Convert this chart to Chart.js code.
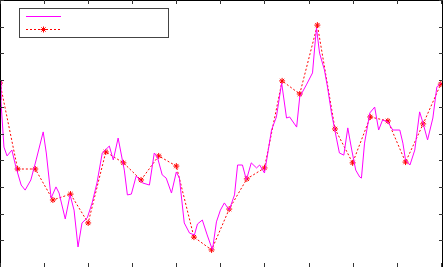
<!DOCTYPE html>
<html>
<head>
<meta charset="utf-8">
<script src="https://cdn.jsdelivr.net/npm/chart.js@4/dist/chart.umd.min.js"></script>
<style>
  html, body { margin: 0; padding: 0; background: #fff; }
  #wrap { width: 445px; height: 267px; }
</style>
</head>
<body>
<div id="wrap"><canvas id="plot"></canvas></div>
<script>
// fine series (magenta) - x positions and values
const fineX = [0.00, 0.02, 0.09, 0.16, 0.27, 0.36, 0.48, 0.57, 0.70, 0.82,
    0.98, 1.05, 1.16, 1.27, 1.34, 1.48, 1.59, 1.68, 1.77, 1.86,
    1.98, 2.09, 2.20, 2.32, 2.48, 2.57, 2.68, 2.82, 2.89, 2.98,
    3.09, 3.23, 3.39, 3.50, 3.57, 3.68, 3.77, 3.89, 4.00, 4.07,
    4.18, 4.30, 4.41, 4.48, 4.59, 4.70, 4.82, 4.91, 5.00, 5.09,
    5.20, 5.32, 5.39, 5.50, 5.59, 5.70, 5.82, 5.89, 6.00, 6.05,
    6.16, 6.27, 6.39, 6.50, 6.57, 6.73, 6.80, 6.95, 7.09, 7.14,
    7.18, 7.25, 7.36, 7.43, 7.52, 7.64, 7.70, 7.80, 7.89, 7.98,
    8.07, 8.16, 8.20, 8.27, 8.39, 8.50, 8.59, 8.68, 8.80, 8.91,
    9.07, 9.14, 9.20, 9.30, 9.41, 9.52, 9.59, 9.70, 9.82, 9.91, 10.00];
const fineY = [7.00, 6.25, 4.49, 4.16, 4.38, 3.75, 3.07, 2.88, 3.26, 4.01,
    5.06, 4.27, 2.58, 3.00, 2.77, 1.80, 2.70, 2.13, 0.75, 1.65,
    1.84, 2.40, 3.15, 4.27, 4.53, 4.01, 4.83, 3.63, 2.70, 2.73,
    3.41, 3.15, 3.07, 4.27, 4.12, 3.45, 3.33, 2.77, 3.56, 3.33,
    1.65, 1.27, 1.20, 1.61, 1.76, 1.20, 0.64, 1.69, 2.13, 2.40,
    2.13, 2.70, 3.82, 3.82, 3.26, 3.90, 3.71, 3.82, 3.52, 4.01,
    5.13, 5.62, 6.89, 5.58, 5.62, 5.24, 6.37, 6.82, 7.27, 8.24,
    8.95, 8.01, 7.38, 6.74, 5.77, 4.76, 4.27, 4.19, 5.21, 4.38,
    3.63, 3.37, 3.33, 4.64, 5.77, 5.99, 5.13, 5.51, 5.43, 5.13,
    5.13, 4.64, 4.01, 3.82, 4.38, 5.81, 5.43, 4.76, 5.58, 6.74, 6.89];

// coarse series (red, star markers) every 0.4
const coarseX = [0, 0.4, 0.8, 1.2, 1.6, 2.0, 2.4, 2.8, 3.2, 3.6, 4.0, 4.4, 4.8,
    5.2, 5.6, 6.0, 6.4, 6.8, 7.2, 7.6, 8.0, 8.4, 8.8, 9.2, 9.6, 10.0];
const coarseY = [6.89, 3.67, 3.67, 2.51, 2.73, 1.65, 4.31, 3.90, 3.26, 4.16, 3.78, 1.12, 0.64,
    2.17, 3.30, 3.71, 6.97, 6.48, 9.06, 5.17, 3.90, 5.62, 5.47, 3.93, 5.36, 6.85];

const xTicks = [0, 1, 2, 3, 4, 5, 6, 7, 8, 9, 10];
const yTicks = [0, 1, 2, 3, 4, 5, 6, 7, 8, 9, 10];

// box with inward tick marks + legend box in the upper left
const boxPlugin = {
    id: 'box',
    afterDraw(chart) {
        const ctx = chart.ctx;
        const a = chart.chartArea;
        const sx = chart.scales.x, sy = chart.scales.y;
        ctx.save();
        ctx.strokeStyle = '#000';
        ctx.lineWidth = 1;
        ctx.beginPath();
        ctx.moveTo(a.left + 0.5, a.bottom);
        ctx.lineTo(a.left + 0.5, a.top + 0.5);
        ctx.lineTo(a.right - 0.5, a.top + 0.5);
        ctx.lineTo(a.right - 0.5, a.bottom);
        ctx.stroke();

        ctx.strokeStyle = '#333';
        ctx.beginPath();
        xTicks.forEach(t => {
            const px = Math.round(sx.getPixelForValue(t)) + 0.5;
            ctx.moveTo(px, a.top); ctx.lineTo(px, a.top + 4);
            ctx.moveTo(px, a.bottom); ctx.lineTo(px, a.bottom - 4);
        });
        yTicks.forEach(t => {
            const py = Math.round(sy.getPixelForValue(t)) + 0.5;
            ctx.moveTo(a.left, py); ctx.lineTo(a.left + 4, py);
            ctx.moveTo(a.right, py); ctx.lineTo(a.right - 4, py);
        });
        ctx.stroke();

        // legend
        ctx.fillStyle = '#fff';
        ctx.fillRect(20, 9, 148, 28);
        ctx.strokeStyle = '#444';
        ctx.strokeRect(19.5, 8.5, 149, 29);
        const ds = chart.data.datasets;
        ctx.strokeStyle = ds[0].borderColor;
        ctx.beginPath();
        ctx.moveTo(26, 16.5); ctx.lineTo(61, 16.5);
        ctx.stroke();
        ctx.strokeStyle = ds[1].borderColor;
        ctx.setLineDash(ds[1].borderDash);
        ctx.beginPath();
        ctx.moveTo(26, 29.5); ctx.lineTo(61, 29.5);
        ctx.stroke();
        ctx.setLineDash([]);
        Chart.helpers.drawPoint(ctx, {pointStyle: 'star', radius: 3, rotation: 0, borderWidth: 1}, 43.5, 29.5);
        ctx.restore();
    }
};

new Chart(document.getElementById('plot').getContext('2d'), {
    type: 'line',
    data: {
        datasets: [{
            label: '',
            data: fineX.map((x, i) => ({x: x, y: fineY[i]})),
            borderColor: '#ff00ff',
            borderWidth: 1,
            pointRadius: 0,
            tension: 0,
            fill: false
        }, {
            label: '',
            data: coarseX.map((x, i) => ({x: x, y: coarseY[i]})),
            borderColor: '#ff0000',
            borderWidth: 1,
            borderDash: [2, 2],
            pointStyle: 'star',
            pointRadius: 3,
            pointBorderColor: '#ff0000',
            pointBorderWidth: 1,
            tension: 0,
            fill: false
        }]
    },
    options: {
        responsive: true,
        maintainAspectRatio: false,
        animation: false,
        layout: { autoPadding: false, padding: { left: 0, right: 2, top: 0, bottom: 0 } },
        scales: {
            x: { type: 'linear', min: 0, max: 10.05, display: false },
            y: { type: 'linear', min: 0, max: 10, display: false }
        },
        plugins: {
            legend: { display: false },
            tooltip: { enabled: false }
        }
    },
    plugins: [boxPlugin]
});
</script>
</body>
</html>
